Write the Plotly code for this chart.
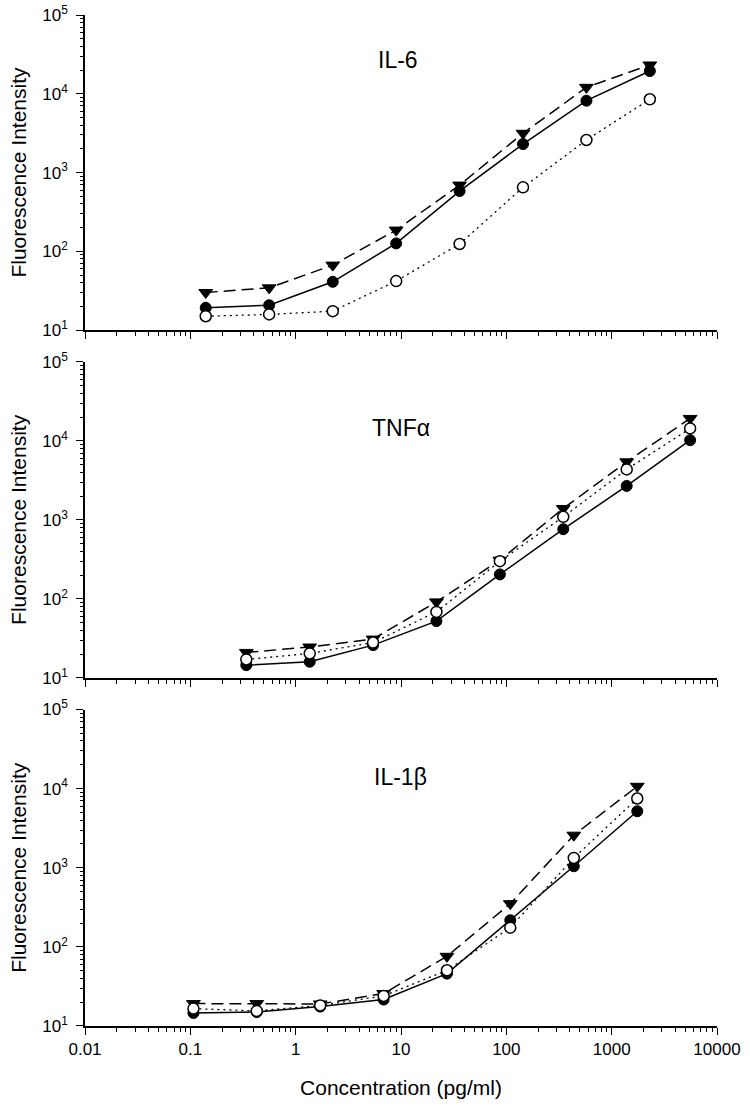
import plotly.graph_objects as go

# ---------------- data ----------------
il6_conc = [0.14, 0.56, 2.25, 9.0, 36, 144, 576, 2304]
il6_filled = [19.2, 20.7, 41, 126, 582, 2300, 8170, 19450]
il6_open = [15.0, 15.8, 17.4, 41.9, 124, 649, 2590, 8510]
il6_tri = [30, 34.4, 66.8, 186, 693, 3150, 12070, 23200]

tnf_conc = [0.34, 1.36, 5.43, 21.7, 86.8, 347, 1389, 5556]
tnf_filled = [14.5, 16.0, 26, 52.3, 204, 762, 2690, 10200]
tnf_open = [17.1, 20.4, 28, 68.4, 300, 1092, 4350, 14350]
tnf_tri = [21, 24.6, 31, 91.6, 309, 1393, 5420, 19200]

il1_conc = [0.107, 0.427, 1.71, 6.84, 27.3, 109, 437, 1750]
il1_filled = [14.6, 15.0, 17.6, 21.6, 45.9, 217, 1045, 5180]
il1_open = [16.6, 15.5, 18.2, 24, 50.6, 175, 1330, 7500]
il1_tri = [19.2, 19.2, 19.0, 25.7, 76, 352, 2580, 10700]

panel_titles = ["IL-6", "TNF\u03b1", "IL-1\u03b2"]
x_ticks = [0.01, 0.1, 1, 10, 100, 1000, 10000]
x_ticktext = ["0.01", "0.1", "1", "10", "100", "1000", "10000"]
y_ticks = [10, 100, 1000, 10000, 100000]
y_ticktext = ["10<sup>1</sup>", "10<sup>2</sup>", "10<sup>3</sup>", "10<sup>4</sup>", "10<sup>5</sup>"]

panels = [
    (il6_conc, il6_filled, il6_open, il6_tri),
    (tnf_conc, tnf_filled, tnf_open, tnf_tri),
    (il1_conc, il1_filled, il1_open, il1_tri),
]

# ---------------- layout geometry ----------------
W, H = 750, 1107
OFF = 0  # page body margin removed via post_script
# target page-pixel positions
left_px, right_px = 85, 717
panel_px = [(15, 330), (361.7, 677.7), (709.3, 1025.7)]  # top/bottom page px
ml = left_px - OFF
mr = W - (right_px - OFF)
mt = panel_px[0][0] - OFF
mb = H - (panel_px[2][1] - OFF)
ph = H - mt - mb
pw = W - ml - mr


def dom(top, bottom):
    return [(H - mb - (bottom - OFF)) / ph, (H - mb - (top - OFF)) / ph]


FONT = "Liberation Sans, Arial, sans-serif"

fig = go.Figure()

minor_x = [m * 10 ** e for e in range(-2, 4) for m in range(2, 10)]
minor_y = [m * 10 ** e for e in range(1, 5) for m in range(2, 10)]

for i, (conc, filled, opn, tri) in enumerate(panels):
    xa = "x" if i == 0 else f"x{i+1}"
    ya = "y" if i == 0 else f"y{i+1}"
    fig.add_trace(go.Scatter(
        x=conc, y=tri, xaxis=xa, yaxis=ya, mode="lines+markers",
        line=dict(color="black", width=1.5, dash="12px,6px"),
        marker=dict(symbol="triangle-down", size=12, color="black",
                    line=dict(color="black", width=1)),
        showlegend=False))
    fig.add_trace(go.Scatter(
        x=conc, y=filled, xaxis=xa, yaxis=ya, mode="lines+markers",
        line=dict(color="black", width=1.5),
        marker=dict(symbol="circle", size=11, color="black",
                    line=dict(color="black", width=1)),
        showlegend=False))
    fig.add_trace(go.Scatter(
        x=conc, y=opn, xaxis=xa, yaxis=ya, mode="lines+markers",
        line=dict(color="black", width=1.3, dash="2px,4px"),
        marker=dict(symbol="circle", size=11, color="white",
                    line=dict(color="black", width=1.5)),
        showlegend=False))

layout = dict(
    width=W, height=H,
    margin=dict(t=mt, b=mb, l=ml, r=mr),
    paper_bgcolor="white", plot_bgcolor="white",
    font=dict(family=FONT, color="black", size=17),
)

for i in range(3):
    xkey = "xaxis" if i == 0 else f"xaxis{i+1}"
    ykey = "yaxis" if i == 0 else f"yaxis{i+1}"
    top, bottom = panel_px[i]
    is_bottom = i == 2
    layout[xkey] = dict(
        type="log", range=[-2, 4], domain=[0, 1], automargin=False,
        anchor="y" if i == 0 else f"y{i+1}",
        showline=True, linecolor="black", linewidth=1.5,
        ticks="outside", ticklen=7, tickwidth=1.2, tickcolor="black",
        tickmode="array", tickvals=x_ticks, ticktext=x_ticktext,
        showticklabels=is_bottom, showgrid=False, zeroline=False,
        ticklabeloverflow="allow",
        tickfont=dict(size=17, family=FONT),
        minor=dict(tickmode="array", tickvals=minor_x, ticks="outside",
                   ticklen=4, tickwidth=1, tickcolor="black", showgrid=False),
        title=dict(text="Concentration (pg/ml)" if is_bottom else "",
                   font=dict(size=21, family=FONT), standoff=22),
    )
    if i > 0:
        layout[xkey]["matches"] = "x"
    layout[ykey] = dict(
        type="log", range=[1, 5], domain=dom(top, bottom), automargin=False,
        anchor="x" if i == 0 else f"x{i+1}",
        showline=True, linecolor="black", linewidth=1.5,
        ticks="outside", ticklen=7, tickwidth=1.2, tickcolor="black",
        tickmode="array", tickvals=y_ticks, ticktext=y_ticktext,
        showgrid=False, zeroline=False, ticklabelstandoff=5,
        ticklabeloverflow="allow",
        tickfont=dict(size=17, family=FONT),
        minor=dict(tickmode="array", tickvals=minor_y, ticks="outside",
                   ticklen=3, tickwidth=1, tickcolor="black", showgrid=False),
        title=dict(text="Fluorescence Intensity",
                   font=dict(size=21, family=FONT), standoff=10),
    )

fig.update_layout(**layout)

title_pos = [(398, 60), (401, 428), (400, 777)]  # page px
for i, t in enumerate(panel_titles):
    px, py = title_pos[i]
    fig.add_annotation(
        text=t, xref="paper", yref="paper",
        x=(px - OFF - ml) / pw, y=(H - mb - (py - OFF)) / ph,
        showarrow=False, font=dict(size=23, family=FONT, color="black"),
        xanchor="center", yanchor="middle")

fig.write_html(
    "out.html",
    config={"displayModeBar": False},
    post_script="document.body.style.margin='0';document.body.style.overflow='hidden';",
)
